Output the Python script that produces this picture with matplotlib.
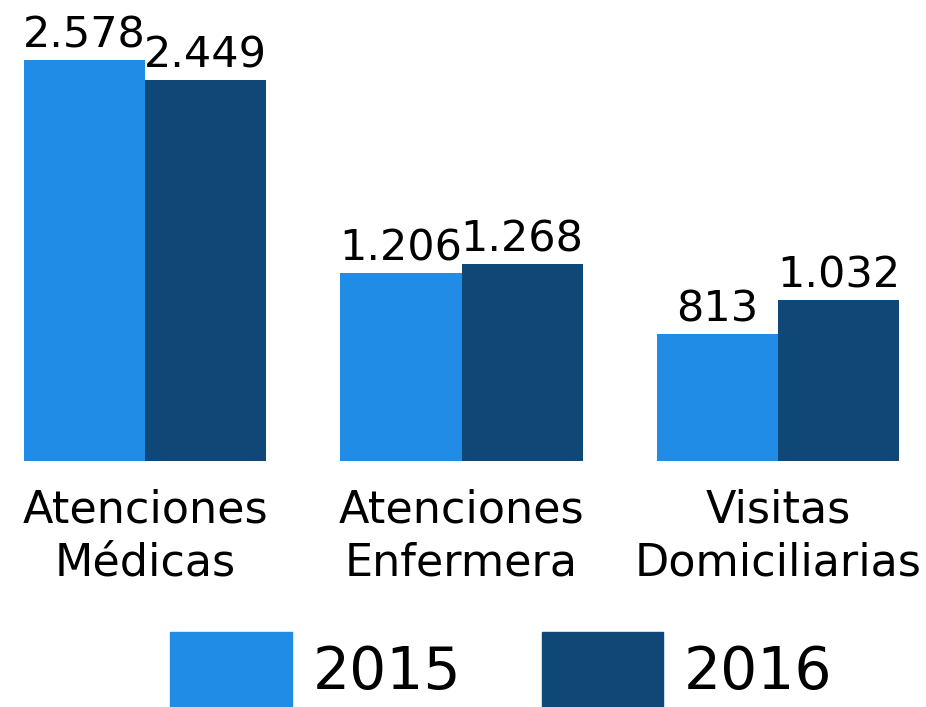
import matplotlib
matplotlib.use("Agg")
import matplotlib.pyplot as plt
from matplotlib.patches import Patch
import numpy as np

categories = ["Atenciones\nMédicas", "Atenciones\nEnfermera", "Visitas\nDomiciliarias"]
years = ["2015", "2016"]
v2015 = [2578, 1206, 813]
v2016 = [2449, 1268, 1032]
colors = ["#208CE6", "#0F4777"]

plt.rcParams['font.family'] = ['DejaVu Sans']

fig = plt.figure(figsize=(9.26, 7.07), dpi=100)
ax = fig.add_axes([0, 0.348, 1, 0.652])

x = np.arange(len(categories))
w = 0.383
b1 = ax.bar(x - w / 2, v2015, w, color=colors[0])
b2 = ax.bar(x + w / 2, v2016, w, color=colors[1])

def fmt(v):
    return f"{v:,}".replace(",", ".")

for bars, vals in [(b1, v2015), (b2, v2016)]:
    for rect, v in zip(bars, vals):
        ax.annotate(fmt(v), (rect.get_x() + rect.get_width() / 2, rect.get_height()),
                    xytext=(0, 9), textcoords="offset points",
                    ha="center", va="baseline", fontsize=31, color="black",
                    annotation_clip=False)

ax.set_xlim(-0.459, 2.468)
ax.set_ylim(0, 2963)
ax.set_xticks(x)
ax.set_xticklabels(categories, fontsize=32, linespacing=1.3)
ax.tick_params(axis="x", length=0, pad=20)
ax.set_yticks([])
for s in ax.spines.values():
    s.set_visible(False)

handles = [Patch(color=c) for c in colors]
fig.legend(handles, years, loc="center", bbox_to_anchor=(0.5416, 0.053),
           ncol=2, frameon=False, fontsize=42, handlelength=2.08,
           handleheight=1.6, handletextpad=0.36, columnspacing=1.38,
           borderpad=0, borderaxespad=0)

fig.savefig("out.png", dpi=100)
